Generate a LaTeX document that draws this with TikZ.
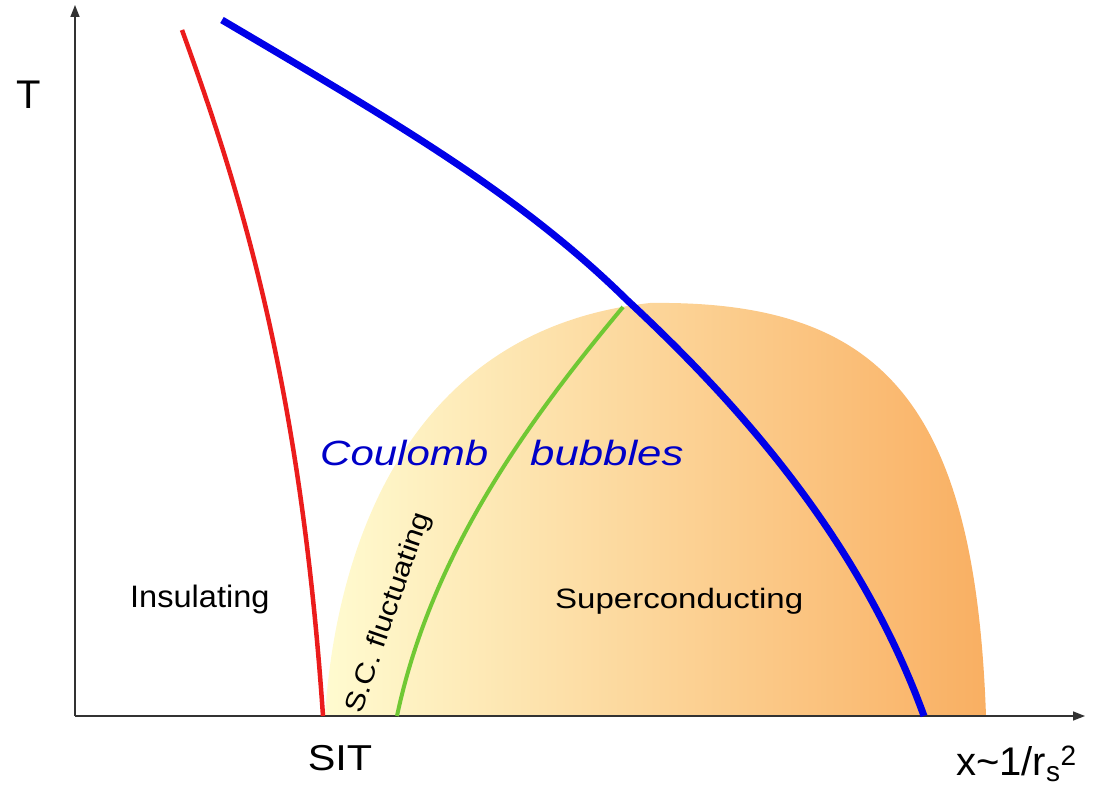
\documentclass[tikz,border=0pt]{standalone}
\usepackage{fontspec}
\setmainfont{Liberation Sans}
\usetikzlibrary{arrows.meta}
\definecolor{redc}{RGB}{235,28,28}
\definecolor{bluec}{RGB}{0,0,232}
\definecolor{greenc}{RGB}{112,200,52}
\definecolor{txtblue}{RGB}{0,0,200}
\definecolor{axisc}{RGB}{50,50,50}
\definecolor{domeL}{RGB}{255,251,208}
\definecolor{domeM}{RGB}{253,222,158}
\definecolor{domeR}{RGB}{249,175,98}
\newcommand{\hs}[2]{\scalebox{#1}[1]{#2}}
\begin{document}
\begin{tikzpicture}[x=1pt,y=-1pt,
  axisline/.style={draw=axisc,line width=1.5pt,-{Triangle[length=12pt,width=9pt]}},
  lbl/.style={inner sep=0pt,text=black},
  bigtxt/.style={lbl,font=\fontsize{40}{44}\selectfont},
  midtxt/.style={lbl,font=\fontsize{31}{36}\selectfont},
  coul/.style={lbl,text=txtblue,font=\fontsize{35}{40}\selectfont\itshape}]
\useasboundingbox (0,0) rectangle (1093,786);
% key points
\coordinate (O) at (75,716);
\coordinate (Ytip) at (75,5);
\coordinate (Xtip) at (1085,716);
\coordinate (domeA) at (325,716);
\coordinate (domeTop) at (650,303);
\coordinate (domeB) at (986,716);
\coordinate (redTop) at (182,30);
\coordinate (redBot) at (323,716);
\coordinate (grnBot) at (397,716);
\coordinate (grnTop) at (623,307);
\coordinate (bluTop) at (222,20);
\coordinate (bluMid) at (627,300);
\coordinate (bluBot) at (924,716);
% dome
\shade[left color=domeL, middle color=domeM, right color=domeR]
  (domeA) .. controls (335,560) and (400,330) .. (domeTop)
  .. controls (880,300) and (975,400) .. (domeB) -- cycle;
% axes
\draw[axisline] (O) -- (Ytip);
\draw[axisline] (O) -- (Xtip);
% curves
\draw[redc,line width=4.5pt] (redTop) .. controls (240,190) and (300,380) .. (redBot);
\draw[greenc,line width=4pt] (grnBot) .. controls (430,560) and (520,430) .. (grnTop);
\draw[bluec,line width=7pt] (bluTop) .. controls (400,125) and (520,195) .. (bluMid)
  .. controls (740,405) and (860,540) .. (bluBot);
% labels
\node[bigtxt] (T) at (29,95) {T};
\node[bigtxt,font=\fontsize{36}{40}\selectfont] (SIT) at (340,758) {\hs{1.15}{SIT}};
\node[bigtxt,anchor=base west] (X) at (956,775) {x\char"007E 1/r\textsubscript{s}\textsuperscript{2}};
\node[coul,anchor=base west] (coulomb) at (320,465) {\hs{1.2}{Coulomb}};
\node[coul,anchor=base west] (bubbles) at (530,465) {\hs{1.25}{bubbles}};
\node[midtxt,anchor=base west] (ins) at (130,607) {\hs{1.05}{Insulating}};
\node[lbl,font=\fontsize{28}{32}\selectfont,anchor=base west] (sup) at (555,608) {\hs{1.18}{Superconducting}};
\node[lbl,font=\fontsize{27}{30}\selectfont,rotate=71] (scf) at (389,613) {\hs{1.15}{S.C. fluctuating}};
\end{tikzpicture}
\end{document}
